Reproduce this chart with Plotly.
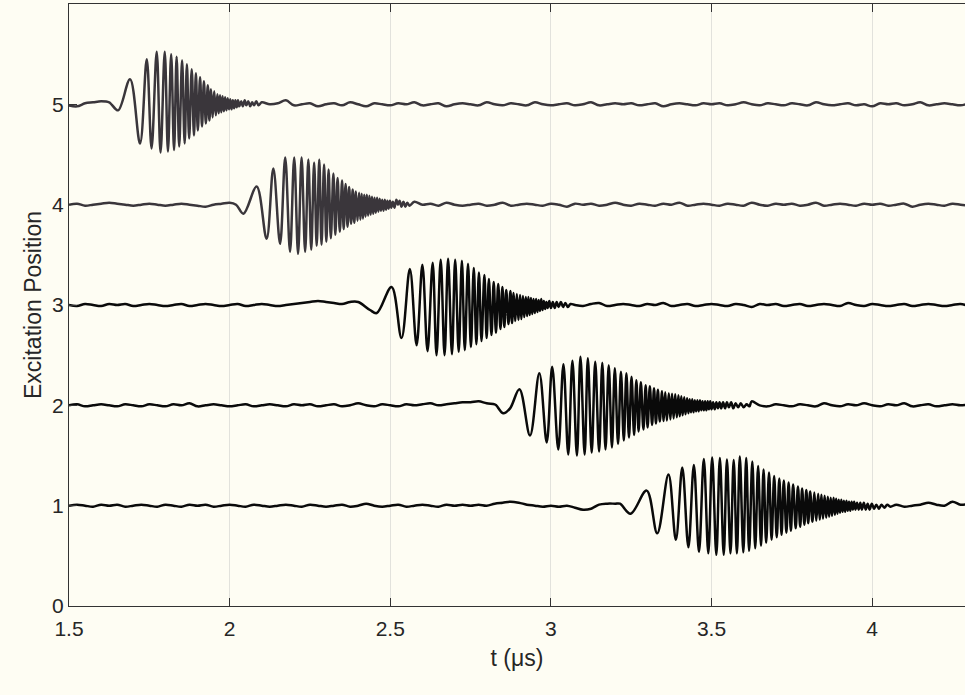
import plotly.graph_objects as go

# ---------------- data ----------------
positions = [5, 4, 3, 2, 1]
x_ticks = [1.5, 2, 2.5, 3, 3.5, 4]
x_tick_text = ["1.5", "2", "2.5", "3", "3.5", "4"]
y_ticks = [0, 1, 2, 3, 4, 5]
y_tick_text = ["0", "1", "2", "3", "4", "5"]

# baseline noise, sampled every 0.025 us from t = 1.5 (values in 1/100 of a unit)
noise_t0 = 1.5
noise_dt = 0.025
noise5 = [-1, -2, 1, 2, 3, 2, 0, 0, 0, 0,
          0, 0, 0, 0, 0, 0, 0, 0, 0, 0,
          0, 0, 1, -1, 2, 0, 1, 4, -1, 0,
          1, -2, 0, 1, -1, 2, 0, -2, 1, 0,
          -1, 1, 0, 2, -1, 0, 1, -2, 0, 1,
          0, -1, 2, 0, -1, 1, 0, -1, 2, 0,
          -1, 0, 1, -1, 0, 2, -1, 0, 1, 0,
          1, -1, 0, 1, -2, 0, 1, 0, -1, 1,
          0, 1, -1, 0, 2, 0, -1, 1, 0, -1,
          1, 0, -1, 2, 0, -1, 0, 1, -1, 0,
          -2, 1, 0, 1, -1, 0, 2, -1, 0, 1,
          0, -1, 1]
noise4 = [0, 1, -1, 0, 1, 2, 1, 0, -1, 0,
          1, 0, -1, 0, 1, 0, -1, -2, 0, 1,
          2, 0, 0, 0, 0, 0, 0, 0, 0, 0,
          0, 0, 0, 0, 0, 0, 0, 0, 0, 0,
          0, 5, -1, 3, 0, 1, -1, 2, 0, -1,
          0, 1, -1, 0, 2, -1, 0, 1, 0, -1,
          1, 0, -2, 1, 0, 1, -1, 0, 2, 0,
          -1, 1, 0, -1, 1, 0, 2, -1, 0, 1,
          0, -1, 1, 0, -1, 2, 0, -1, 1, 0,
          1, -1, 0, 2, -1, 0, 1, 0, -1, 1,
          0, 1, -1, 0, 1, -2, 0, 1, 0, -1,
          1, 0, -1]
noise3 = [0, -1, 1, 0, -1, 1, 0, 1, -1, 0,
          1, 0, -1, 0, 1, -1, 0, 1, 0, -1,
          0, 1, -1, 0, 1, 0, -1, 0, 1, 2,
          3, 4, 3, 2, 1, 3, 0, 0, 0, 0,
          0, 0, 0, 0, 0, 0, 0, 0, 0, 0,
          0, 0, 0, 0, 0, 0, 0, 0, 0, 0,
          -1, 1, 3, 0, -1, 1, 2, -1, 0, 1,
          0, -1, 1, 0, 2, -1, 0, 1, -1, 0,
          1, 0, -1, 1, 0, -2, 1, 0, 1, -1,
          0, 1, -1, 0, 1, 0, -1, 2, 0, -1,
          1, 0, -1, 0, 1, -1, 0, 1, 0, -1,
          0, 1, -1]
noise2 = [0, 1, -1, 0, 1, 0, -1, 1, 0, -1,
          1, 0, -1, 1, 0, 2, -1, 0, 1, 0,
          -1, 0, 1, -1, 0, 1, 0, -1, 1, 0,
          1, -1, 0, 1, -1, 0, 2, 0, -1, 1,
          0, -1, 1, 0, 1, 2, 0, 1, 2, 3,
          3, 4, 2, 1, 0, 0, 0, 0, 0, 0,
          0, 0, 0, 0, 0, 0, 0, 0, 0, 0,
          0, 0, 0, 0, 0, 0, 0, 0, 0, 0,
          0, 0, 1, -1, 0, 4, 0, -1, 1, 0,
          -1, 1, 0, -1, 2, 0, -1, 1, 0, 2,
          0, -1, 1, 0, 2, -1, 0, 1, -1, 0,
          1, 0, 1]
noise1 = [0, 1, 0, -1, 1, 0, 1, -1, 0, 1,
          0, -1, 1, 0, -1, 1, 0, 1, -1, 0,
          1, 0, -1, 1, 0, -1, 0, 1, 0, -1,
          1, 0, -1, 0, 1, -1, 0, 2, 0, -1,
          0, 1, -1, 0, 1, 0, -1, 1, 0, 1,
          0, 1, 0, 2, 3, 4, 3, 1, 0, -1,
          0, -1, 0, -2, -4, -3, 1, 2, 2, 0,
          0, 0, 0, 0, 0, 0, 0, 0, 0, 0,
          0, 0, 0, 0, 0, 0, 0, 0, 0, 0,
          0, 0, 0, 0, 0, 0, 0, 0, 0, -1,
          0, -1, 0, 1, -1, 0, 1, 3, 1, 0,
          4, 1, 2]

# chirp bursts: (time of extremum in us, deviation from the trace's position)
burst5 = [(1.632, 0.0), (1.653, -0.06), (1.690, 0.25), (1.721, -0.39), (1.742, 0.45),
          (1.757, -0.44), (1.773, 0.525), (1.785, -0.48), (1.798, 0.525), (1.808, -0.47),
          (1.818, 0.50), (1.827, -0.455), (1.835, 0.475), (1.843, -0.42), (1.852, 0.44),
          (1.860, -0.39), (1.867, 0.40), (1.874, -0.34), (1.882, 0.35), (1.889, -0.31),
          (1.895, 0.31), (1.901, -0.26), (1.908, 0.27), (1.914, -0.22), (1.920, 0.23),
          (1.926, -0.19), (1.932, 0.19), (1.937, -0.16), (1.942, 0.15), (1.947, -0.13),
          (1.952, 0.13), (1.957, -0.11), (1.962, 0.10), (1.966, -0.09), (1.970, 0.09),
          (1.974, -0.08), (1.978, 0.08), (1.982, -0.07), (1.986, 0.07), (1.990, -0.06),
          (1.994, 0.06), (1.998, -0.05), (2.002, 0.05), (2.006, -0.05), (2.010, 0.04),
          (2.014, -0.04), (2.018, 0.04), (2.022, -0.03), (2.026, 0.04), (2.030, -0.02),
          (2.036, 0.03), (2.041, -0.02), (2.047, 0.04), (2.052, -0.01), (2.058, 0.03),
          (2.064, -0.02), (2.070, 0.02), (2.076, -0.01), (2.083, 0.03), (2.090, -0.01)]
burst4 = [(2.020, 0.0), (2.043, -0.09), (2.084, 0.18), (2.115, -0.34), (2.136, 0.36),
          (2.157, -0.39), (2.173, 0.47), (2.188, -0.47), (2.201, 0.47), (2.213, -0.49),
          (2.224, 0.47), (2.235, -0.47), (2.245, 0.45), (2.254, -0.45), (2.263, 0.42),
          (2.271, -0.41), (2.279, 0.45), (2.286, -0.40), (2.294, 0.40), (2.301, -0.37),
          (2.308, 0.35), (2.315, -0.335), (2.323, 0.31), (2.329, -0.30), (2.336, 0.265),
          (2.343, -0.27), (2.350, 0.24), (2.355, -0.245), (2.361, 0.205), (2.367, -0.22),
          (2.372, 0.175), (2.378, -0.19), (2.383, 0.15), (2.388, -0.18), (2.393, 0.13),
          (2.398, -0.16), (2.403, 0.12), (2.407, -0.15), (2.411, 0.11), (2.415, -0.14),
          (2.419, 0.10), (2.423, -0.12), (2.427, 0.10), (2.431, -0.11), (2.435, 0.09),
          (2.439, -0.10), (2.443, 0.08), (2.447, -0.09), (2.451, 0.07), (2.455, -0.08),
          (2.459, 0.07), (2.463, -0.07), (2.467, 0.06), (2.471, -0.06), (2.475, 0.05),
          (2.479, -0.06), (2.483, 0.05), (2.487, -0.05), (2.491, 0.04), (2.495, -0.04),
          (2.499, 0.04), (2.503, -0.03), (2.508, 0.03), (2.513, -0.03), (2.519, 0.05),
          (2.524, 0.0), (2.529, 0.04), (2.535, -0.02), (2.541, 0.03), (2.547, -0.02),
          (2.553, 0.02), (2.560, -0.01)]
burst3 = [(2.400, 0.03), (2.437, -0.05), (2.458, -0.08), (2.504, 0.18), (2.535, -0.33),
          (2.561, 0.36), (2.582, -0.40), (2.600, 0.40), (2.616, -0.46), (2.632, 0.42),
          (2.644, -0.50), (2.657, 0.45), (2.669, -0.50), (2.680, 0.46), (2.692, -0.49),
          (2.702, 0.45), (2.713, -0.465), (2.723, 0.44), (2.732, -0.45), (2.742, 0.41),
          (2.751, -0.42), (2.760, 0.37), (2.768, -0.39), (2.776, 0.325), (2.784, -0.36),
          (2.793, 0.30), (2.800, -0.33), (2.807, 0.26), (2.815, -0.30), (2.822, 0.23),
          (2.829, -0.275), (2.836, 0.21), (2.843, -0.24), (2.849, 0.18), (2.855, -0.22),
          (2.861, 0.15), (2.868, -0.19), (2.874, 0.14), (2.879, -0.18), (2.884, 0.12),
          (2.889, -0.16), (2.894, 0.11), (2.899, -0.15), (2.904, 0.10), (2.908, -0.14),
          (2.913, 0.09), (2.917, -0.12), (2.922, 0.08), (2.926, -0.11), (2.930, 0.08),
          (2.934, -0.10), (2.938, 0.07), (2.942, -0.09), (2.946, 0.06), (2.950, -0.08),
          (2.954, 0.06), (2.958, -0.07), (2.962, 0.05), (2.966, -0.06), (2.970, 0.06),
          (2.974, -0.05), (2.978, 0.04), (2.982, -0.04), (2.986, 0.03), (2.990, -0.03),
          (2.995, 0.04), (3.000, -0.03), (3.006, 0.03), (3.012, -0.03), (3.018, 0.03),
          (3.024, -0.02), (3.031, 0.03), (3.038, -0.02), (3.045, 0.02), (3.053, -0.02),
          (3.061, 0.01)]
burst2 = [(2.830, 0.0), (2.852, -0.08), (2.873, -0.03), (2.902, 0.16), (2.935, -0.30),
          (2.964, 0.32), (2.987, -0.37), (3.004, 0.385), (3.023, -0.44), (3.039, 0.41),
          (3.054, -0.49), (3.067, 0.445), (3.081, -0.50), (3.092, 0.485), (3.105, -0.49),
          (3.115, 0.47), (3.127, -0.47), (3.138, 0.435), (3.150, -0.46), (3.160, 0.425),
          (3.170, -0.44), (3.180, 0.40), (3.190, -0.42), (3.199, 0.37), (3.209, -0.385),
          (3.218, 0.335), (3.227, -0.35), (3.235, 0.32), (3.243, -0.32), (3.251, 0.285),
          (3.259, -0.295), (3.266, 0.25), (3.273, -0.26), (3.280, 0.23), (3.288, -0.24),
          (3.295, 0.20), (3.301, -0.22), (3.308, 0.19), (3.315, -0.195), (3.321, 0.17),
          (3.327, -0.18), (3.333, 0.155), (3.339, -0.16), (3.346, 0.14), (3.351, -0.155),
          (3.356, 0.13), (3.361, -0.15), (3.367, 0.12), (3.372, -0.14), (3.377, 0.115),
          (3.382, -0.13), (3.387, 0.11), (3.392, -0.12), (3.397, 0.10), (3.401, -0.11),
          (3.406, 0.09), (3.410, -0.10), (3.415, 0.08), (3.419, -0.09), (3.424, 0.07),
          (3.428, -0.08), (3.432, 0.06), (3.436, -0.07), (3.440, 0.06), (3.444, -0.07),
          (3.448, 0.05), (3.452, -0.06), (3.456, 0.05), (3.460, -0.06), (3.464, 0.05),
          (3.468, -0.05), (3.472, 0.04), (3.476, -0.05), (3.480, 0.04), (3.484, -0.05),
          (3.488, 0.04), (3.492, -0.04), (3.496, 0.04), (3.500, -0.04), (3.505, 0.03),
          (3.510, -0.04), (3.515, 0.03), (3.520, -0.03), (3.525, 0.03), (3.530, -0.03),
          (3.536, 0.03), (3.542, -0.03), (3.548, 0.03), (3.554, -0.02), (3.561, 0.03),
          (3.568, -0.03), (3.575, 0.02), (3.583, -0.02), (3.591, 0.02), (3.600, -0.02),
          (3.609, 0.01), (3.618, -0.01)]
burst1 = [(3.215, 0.02), (3.248, -0.08), (3.298, 0.15), (3.331, -0.275), (3.366, 0.31),
          (3.389, -0.34), (3.409, 0.38), (3.428, -0.415), (3.445, 0.405), (3.461, -0.46),
          (3.476, 0.465), (3.490, -0.475), (3.502, 0.48), (3.515, -0.49), (3.526, 0.475),
          (3.538, -0.49), (3.548, 0.46), (3.559, -0.475), (3.569, 0.455), (3.579, -0.475),
          (3.588, 0.49), (3.599, -0.465), (3.608, 0.475), (3.617, -0.45), (3.627, 0.44),
          (3.636, -0.425), (3.645, 0.395), (3.654, -0.40), (3.662, 0.36), (3.670, -0.37),
          (3.679, 0.33), (3.687, -0.34), (3.695, 0.295), (3.703, -0.315), (3.711, 0.27),
          (3.718, -0.29), (3.725, 0.25), (3.733, -0.27), (3.740, 0.23), (3.747, -0.25),
          (3.754, 0.21), (3.762, -0.225), (3.769, 0.19), (3.776, -0.21), (3.782, 0.17),
          (3.789, -0.19), (3.795, 0.155), (3.801, -0.175), (3.807, 0.14), (3.814, -0.16),
          (3.820, 0.13), (3.826, -0.15), (3.832, 0.12), (3.837, -0.14), (3.842, 0.11),
          (3.847, -0.13), (3.852, 0.10), (3.857, -0.12), (3.862, 0.09), (3.866, -0.11),
          (3.871, 0.08), (3.875, -0.10), (3.880, 0.08), (3.884, -0.09), (3.888, 0.07),
          (3.892, -0.08), (3.896, 0.06), (3.900, -0.07), (3.904, 0.06), (3.908, -0.06),
          (3.912, 0.05), (3.916, -0.06), (3.920, 0.05), (3.924, -0.05), (3.928, 0.04),
          (3.932, -0.05), (3.936, 0.04), (3.940, -0.04), (3.944, 0.04), (3.948, -0.04),
          (3.953, 0.03), (3.958, -0.04), (3.963, 0.03), (3.968, -0.04), (3.974, 0.03),
          (3.980, -0.04), (3.986, 0.02), (3.992, -0.04), (3.999, 0.02), (4.006, -0.03),
          (4.013, 0.01), (4.021, -0.03), (4.029, 0.01), (4.038, -0.02), (4.047, 0.01),
          (4.057, -0.01)]

noises = [noise5, noise4, noise3, noise2, noise1]
bursts = [burst5, burst4, burst3, burst2, burst1]
line_colors = ["#3a363b", "#3a363b", "#0a0a0a", "#0a0a0a", "#0a0a0a"]

# ---------------- styling ----------------
BG = "#fefdf3"
AX = "#333333"
GRID = "#e2e2dc"
TXT = "#262626"
FONT = "Liberation Sans, Arial, Helvetica, sans-serif"

fig = go.Figure()

for pos, noise, burst, col in zip(positions, noises, bursts, line_colors):
    grid_t = [round(noise_t0 + noise_dt * i, 4) for i in range(len(noise))]
    t_first = burst[0][0]
    t_last = burst[-1][0]
    xs, ys = [], []
    for t, v in zip(grid_t, noise):
        if t < t_first:
            xs.append(t)
            ys.append(pos + v / 100.0)
    for t, d in burst:
        xs.append(t)
        ys.append(pos + d)
    for t, v in zip(grid_t, noise):
        if t > t_last:
            xs.append(t)
            ys.append(pos + v / 100.0)
    fig.add_trace(go.Scatter(
        x=xs, y=ys, mode="lines",
        line=dict(color=col, width=2.5, shape="spline", smoothing=1.0),
        showlegend=False, hoverinfo="skip",
    ))

fig.update_layout(
    width=965, height=695,
    margin=dict(l=69, r=0, t=4, b=89, pad=0),
    paper_bgcolor=BG, plot_bgcolor=BG,
    font=dict(family=FONT, size=21, color=TXT),
    showlegend=False,
)

fig.update_xaxes(
    range=[1.5, 4.289],
    tickvals=x_ticks, ticktext=x_tick_text,
    ticks="inside", ticklen=8, tickwidth=1, tickcolor=AX,
    showline=True, linecolor=AX, linewidth=1, mirror="allticks",
    showgrid=True, gridcolor=GRID, gridwidth=1,
    zeroline=False,
    tickfont=dict(family=FONT, size=21, color=TXT),
    ticklabelstandoff=4,
    title=dict(text="t (μs)", font=dict(family=FONT, size=23, color=TXT), standoff=10),
    automargin=False,
)
fig.update_yaxes(
    range=[0, 6],
    tickvals=y_ticks, ticktext=y_tick_text,
    ticks="inside", ticklen=8, tickwidth=1, tickcolor=AX,
    showline=True, linecolor=AX, linewidth=1, mirror=False,
    showgrid=False, zeroline=False,
    tickfont=dict(family=FONT, size=21, color=TXT),
    title=dict(text="Excitation Position", font=dict(family=FONT, size=23, color=TXT), standoff=4),
    automargin=False,
)

fig.write_html("out.html")
